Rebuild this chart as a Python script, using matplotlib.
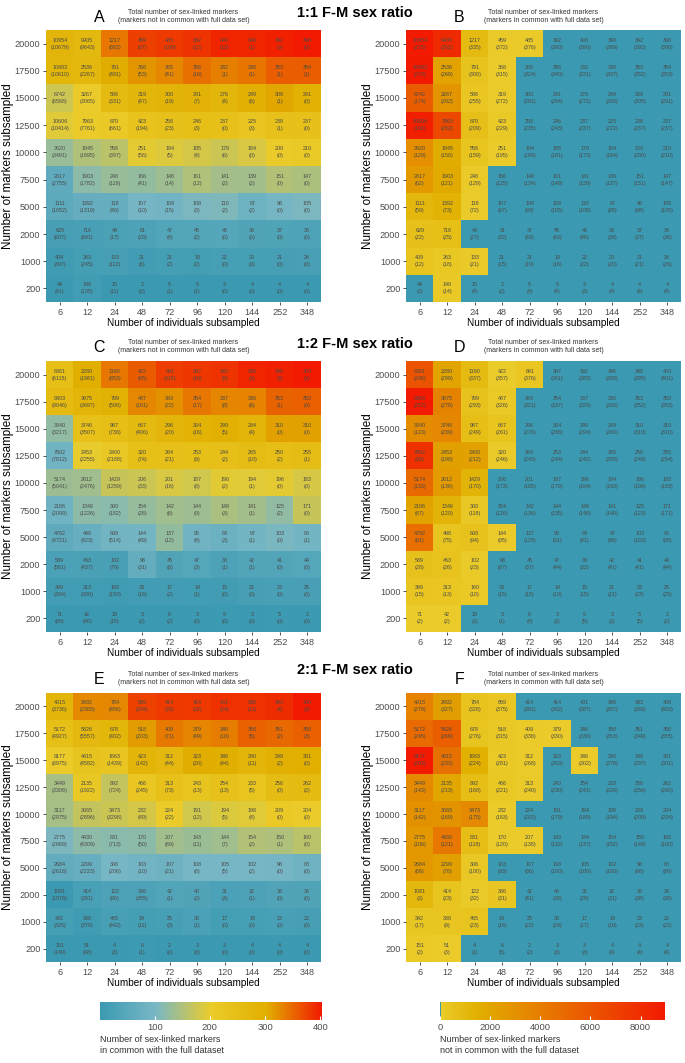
import numpy as np
import matplotlib
matplotlib.use('Agg')
import matplotlib.pyplot as plt
from matplotlib.colors import LinearSegmentedColormap, Normalize
from matplotlib.cm import ScalarMappable

plt.rcParams['font.family'] = ['Liberation Sans', 'DejaVu Sans']

individuals = [6, 12, 24, 48, 72, 96, 120, 144, 252, 348]
markers = [20000, 17500, 15000, 12500, 10000, 7500, 5000, 2000, 1000, 200]

# ---- 1:1 F-M sex ratio ----
total_11 = [
    [10954, 9905, 1217, 459, 485, 392, 403, 390, 392, 398],
    [10883, 2536, 791, 368, 365, 356, 332, 338, 353, 354],
    [6742, 3267, 586, 319, 300, 291, 276, 299, 306, 291],
    [10606, 7963, 870, 423, 258, 246, 237, 225, 238, 237],
    [3620, 1845, 556, 251, 194, 185, 179, 184, 200, 210],
    [2817, 1903, 248, 166, 148, 161, 141, 139, 151, 147],
    [1111, 1392, 118, 107, 108, 108, 110, 87, 98, 105],
    [629, 716, 44, 61, 47, 45, 46, 38, 37, 36],
    [409, 263, 133, 21, 21, 18, 22, 20, 21, 26],
    [44, 149, 15, 2, 5, 5, 3, 4, 4, 4],
]
not_common_11 = [
    [10679, 9643, 882, 87, 109, 12, 13, 1, 0, 0],
    [10610, 2267, 491, 53, 41, 16, 1, 1, 1, 1],
    [6568, 3065, 331, 47, 19, 7, 4, 6, 1, 0],
    [10414, 7761, 661, 194, 23, 3, 0, 3, 1, 0],
    [3491, 1695, 397, 56, 5, 4, 6, 0, 0, 0],
    [2755, 1782, 119, 41, 14, 12, 2, 2, 0, 0],
    [1052, 1319, 46, 10, 15, 3, 2, 2, 0, 0],
    [607, 691, 17, 29, 4, 2, 0, 0, 0, 0],
    [397, 245, 112, 6, 2, 2, 0, 0, 0, 0],
    [41, 135, 11, 0, 1, 1, 0, 0, 0, 0],
]
in_common_11 = [
    [275, 262, 335, 372, 376, 380, 390, 389, 392, 398],
    [273, 269, 300, 315, 324, 340, 331, 337, 352, 353],
    [174, 202, 255, 272, 281, 284, 272, 293, 305, 291],
    [192, 202, 209, 229, 235, 243, 237, 222, 237, 237],
    [129, 150, 159, 195, 189, 181, 173, 184, 200, 210],
    [62, 121, 129, 125, 134, 149, 139, 137, 151, 147],
    [59, 73, 72, 97, 93, 105, 108, 85, 98, 105],
    [22, 25, 27, 32, 43, 43, 46, 38, 37, 36],
    [12, 18, 21, 15, 19, 16, 22, 20, 21, 26],
    [3, 14, 4, 2, 4, 4, 3, 4, 4, 4],
]

# ---- 1:2 F-M sex ratio ----
total_12 = [
    [6361, 2280, 1190, 422, 691, 397, 392, 396, 398, 403],
    [9303, 3975, 799, 487, 343, 354, 337, 336, 353, 353],
    [3340, 3746, 987, 667, 296, 304, 299, 284, 310, 310],
    [7902, 2453, 2400, 320, 264, 253, 244, 265, 250, 255],
    [5174, 2612, 1429, 206, 201, 187, 196, 194, 196, 183],
    [2186, 1346, 300, 154, 142, 144, 149, 141, 125, 171],
    [4782, 498, 608, 144, 137, 95, 84, 97, 103, 96],
    [589, 463, 102, 98, 45, 47, 33, 42, 41, 44],
    [399, 313, 160, 33, 17, 14, 15, 21, 23, 25],
    [71, 42, 18, 3, 6, 3, 5, 3, 5, 2],
]
not_common_12 = [
    [6115, 1981, 853, 65, 315, 16, 9, 3, 3, 2],
    [9046, 3697, 506, 161, 22, 17, 8, 6, 1, 0],
    [3217, 3507, 738, 406, 20, 16, 5, 4, 0, 0],
    [7812, 2255, 2188, 74, 21, 9, 2, 10, 2, 1],
    [5041, 2476, 1259, 33, 16, 8, 2, 1, 0, 0],
    [2099, 1226, 182, 28, 6, 9, 3, 1, 2, 0],
    [4721, 423, 514, 49, 12, 4, 3, 1, 0, 1],
    [561, 437, 79, 31, 8, 3, 1, 1, 0, 0],
    [384, 300, 150, 18, 2, 1, 0, 0, 0, 0],
    [69, 40, 15, 2, 2, 0, 0, 0, 0, 0],
]
in_common_12 = [
    [246, 299, 337, 357, 376, 381, 383, 393, 395, 401],
    [257, 278, 293, 326, 321, 337, 329, 330, 352, 353],
    [123, 239, 249, 261, 276, 288, 294, 280, 310, 310],
    [90, 198, 212, 246, 243, 244, 242, 255, 248, 254],
    [133, 136, 170, 173, 185, 179, 194, 193, 196, 183],
    [87, 120, 118, 126, 136, 135, 146, 140, 123, 171],
    [61, 75, 94, 95, 125, 91, 81, 96, 103, 95],
    [28, 26, 23, 67, 37, 44, 32, 41, 41, 44],
    [15, 13, 10, 15, 15, 13, 15, 21, 23, 25],
    [2, 2, 3, 1, 4, 3, 5, 3, 5, 2],
]

# ---- 2:1 F-M sex ratio ----
total_21 = [
    [4015, 2692, 784, 659, 414, 414, 401, 398, 393, 406],
    [5172, 5826, 678, 518, 409, 379, 346, 358, 351, 358],
    [9177, 4815, 1663, 423, 312, 323, 346, 290, 299, 301],
    [3449, 2135, 892, 466, 313, 243, 254, 233, 256, 262],
    [3117, 3065, 3473, 232, 224, 191, 194, 198, 209, 204],
    [2775, 4430, 831, 170, 207, 143, 144, 154, 150, 160],
    [2684, 2299, 306, 103, 107, 108, 105, 102, 98, 88],
    [1081, 414, 122, 386, 42, 40, 31, 32, 38, 38],
    [342, 388, 465, 29, 25, 30, 17, 19, 23, 22],
    [151, 51, 4, 6, 2, 3, 3, 4, 4, 4],
]
not_common_21 = [
    [3736, 2365, 456, 284, 33, 32, 14, 11, 4, 3],
    [4927, 5557, 402, 203, 71, 49, 10, 5, 2, 3],
    [8975, 4582, 1439, 142, 44, 20, 44, 11, 2, 0],
    [3306, 1922, 724, 245, 73, 13, 13, 5, 0, 2],
    [2975, 2896, 3298, 49, 22, 12, 5, 4, 0, 0],
    [2669, 4309, 713, 50, 69, 11, 7, 2, 1, 0],
    [2618, 2223, 206, 10, 21, 8, 5, 2, 0, 0],
    [1078, 391, 90, 355, 1, 2, 3, 1, 0, 0],
    [325, 379, 442, 11, 3, 1, 0, 0, 0, 0],
    [149, 48, 3, 1, 0, 0, 0, 0, 0, 0],
]
in_common_21 = [
    [279, 327, 328, 375, 381, 382, 387, 387, 389, 403],
    [245, 269, 276, 315, 338, 330, 336, 353, 349, 355],
    [202, 233, 224, 281, 268, 303, 302, 279, 297, 301],
    [143, 213, 168, 221, 240, 230, 241, 228, 256, 260],
    [142, 169, 175, 183, 202, 179, 189, 194, 209, 204],
    [106, 121, 118, 120, 138, 132, 137, 152, 149, 160],
    [66, 76, 100, 93, 86, 100, 100, 100, 98, 88],
    [3, 23, 32, 31, 41, 38, 28, 31, 38, 38],
    [17, 9, 23, 18, 22, 29, 17, 19, 23, 22],
    [2, 3, 1, 5, 2, 3, 3, 4, 4, 4],
]

ZISSOU = ['#3B9AB2', '#78B7C5', '#EBCC2A', '#E1AF00', '#F21A00']
# value at which each Zissou colour sits on the "not in common" scale
NC_STOPS = [0, 2, 15, 1500]

W, H = 685, 1063
fig = plt.figure(figsize=(W / 100, H / 100), dpi=100)


def px_axes(x0, y0, x1, y1):
    return fig.add_axes([x0 / W, 1 - y1 / H, (x1 - x0) / W, (y1 - y0) / H])


def linear_scale(vals):
    v = np.asarray(vals, dtype=float)
    cmap = LinearSegmentedColormap.from_list('zis', ZISSOU)
    return cmap, Normalize(v.min(), v.max())


def stepped_scale(vals):
    v = np.asarray(vals, dtype=float)
    lo, hi = v.min(), v.max()
    pos = [(s - lo) / (hi - lo) for s in NC_STOPS] + [1.0]
    cmap = LinearSegmentedColormap.from_list('zisq', list(zip(pos, ZISSOU)))
    return cmap, Normalize(lo, hi)


def heatmap(box, colour_vals, totals, labels, scale, letter, subtitle):
    ax = px_axes(*box)
    cmap, norm = scale(colour_vals)
    ax.imshow(np.asarray(colour_vals, dtype=float), cmap=cmap, norm=norm,
              aspect='auto', interpolation='nearest')
    for i in range(len(markers)):
        for j in range(len(individuals)):
            ax.text(j, i, f'{totals[i][j]}\n({labels[i][j]})', ha='center',
                    va='center', fontsize=3.9, color='#4a4a4a',
                    linespacing=1.5)
    ax.set_xticks(range(len(individuals)))
    ax.set_xticklabels(individuals)
    ax.set_yticks(range(len(markers)))
    ax.set_yticklabels(markers)
    for s in ax.spines.values():
        s.set_visible(False)
    ax.tick_params(length=2.5, width=0.6, color='#333333', labelsize=6.6,
                   labelcolor='#4d4d4d', pad=1.5)
    ax.set_xlabel('Number of individuals subsampled', fontsize=7.2, labelpad=1)
    ax.set_ylabel('Number of markers subsampled', fontsize=8.4, labelpad=0.5)
    cx = (box[0] + box[2]) / 2
    fig.text(cx / W, 1 - (box[1] - 14) / H, subtitle, ha='center',
             va='center', fontsize=5, color='#333333', linespacing=1.2)
    fig.text((cx - 84) / W, 1 - (box[1] - 13) / H, letter, ha='center',
             va='center', fontsize=11.5)
    return cmap, norm


sub_nc = 'Total number of sex-linked markers\n(markers not in common with full data set)'
sub_c = 'Total number of sex-linked markers\n(markers in common with full data set)'

rows = [
    ('1:1 F-M sex ratio', 30, 302, 'A', 'B', total_11, not_common_11, in_common_11),
    ('1:2 F-M sex ratio', 361, 632, 'C', 'D', total_12, not_common_12, in_common_12),
    ('2:1 F-M sex ratio', 693, 962, 'E', 'F', total_21, not_common_21, in_common_21),
]
title_y = [13, 344, 670]
for (title, top, bot, la, lb, tot, nc, ic), ty in zip(rows, title_y):
    left_scale = heatmap((46, top, 321, bot), ic, tot, nc, linear_scale, la, sub_nc)
    right_scale = heatmap((406, top, 681, bot), nc, tot, ic, stepped_scale, lb, sub_c)
    fig.text(355 / W, 1 - ty / H, title, ha='center', va='center',
             fontsize=10.5, fontweight='bold')

# colour bars for the bottom panels
for (cmap, norm), x0, x1, ticks, label in [
        (left_scale, 100, 322, [100, 200, 300, 400],
         'Number of sex-linked markers\nin common with the full dataset'),
        (right_scale, 440, 665, [0, 2000, 4000, 6000, 8000],
         'Number of sex-linked markers\nnot in common with the full dataset')]:
    cax = px_axes(x0, 1002, x1, 1020)
    cb = fig.colorbar(ScalarMappable(norm=norm, cmap=cmap), cax=cax,
                      orientation='horizontal')
    cb.outline.set_visible(False)
    cb.set_ticks(ticks)
    cax.tick_params(length=3, color='white', labelsize=6.8,
                    labelcolor='#4d4d4d', pad=2, direction='in')
    fig.text(x0 / W, 1 - 1045 / H, label, ha='left', va='center',
             fontsize=6.5, color='#333333', linespacing=1.2)

fig.savefig('out.png', dpi=100)
